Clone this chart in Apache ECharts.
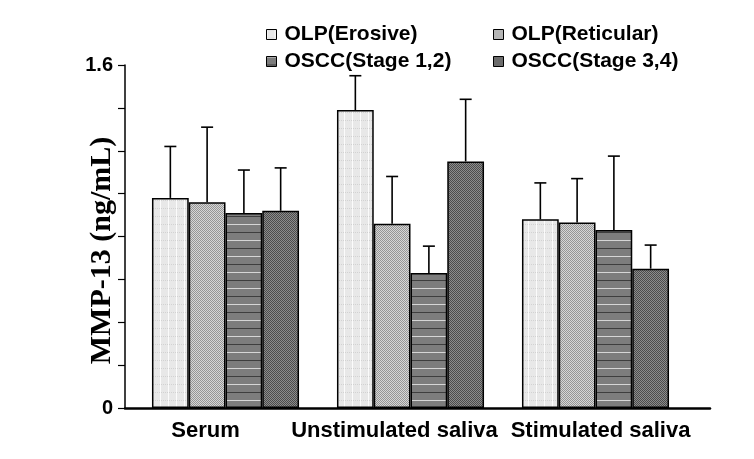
<!DOCTYPE html>
<html>
<head>
<meta charset="utf-8">
<script src="https://cdn.jsdelivr.net/npm/echarts@6/dist/echarts.min.js"></script>
<style>
html,body{margin:0;padding:0;background:#fff;}
#chart{width:754px;height:459px;}
</style>
</head>
<body>
<div id="chart"></div>
<script>
// ---- Data ----
var categories = ['Serum', 'Unstimulated saliva', 'Stimulated saliva'];
var seriesNames = ['OLP(Erosive)', 'OLP(Reticular)', 'OSCC(Stage 1,2)', 'OSCC(Stage 3,4)'];
var erosive      = [0.98, 1.39, 0.88];
var erosiveErr   = [0.24, 0.16, 0.17];
var reticular    = [0.96, 0.86, 0.865];
var reticularErr = [0.35, 0.22, 0.205];
var stage12      = [0.91, 0.63, 0.83];
var stage12Err   = [0.20, 0.125, 0.345];
var stage34      = [0.92, 1.15, 0.65];
var stage34Err   = [0.20, 0.29, 0.11];
var yTickLabels  = ['0', '1.6'];

var values = [erosive, reticular, stage12, stage34];
var errors = [erosiveErr, reticularErr, stage12Err, stage34Err];

// ---- Layout (label nudges, px) ----
var LABEL_SHIFT = [-20, -16, 5];

// ---- Patterns ----
function makePattern(w, h, draw) {
  var c = document.createElement('canvas');
  c.width = w; c.height = h;
  var ctx = c.getContext('2d');
  draw(ctx, w, h);
  return {image: c, repeat: 'repeat'};
}
var patErosive = makePattern(8, 8, function (ctx, w, h) {
  ctx.fillStyle = '#e8e8e8'; ctx.fillRect(0, 0, w, h);
  ctx.fillStyle = '#fbfbfb'; ctx.fillRect(0, 0, 1, h);
  ctx.fillStyle = '#d2d2d2';
  for (var x = 1; x < w; x += 2) ctx.fillRect(x, 0, 1, 1);
});
var patReticular = makePattern(2, 2, function (ctx) {
  ctx.fillStyle = '#d6d6d6'; ctx.fillRect(0, 0, 2, 2);
  ctx.fillStyle = '#959595'; ctx.fillRect(0, 0, 1, 1); ctx.fillRect(1, 1, 1, 1);
});
var patStage12 = makePattern(4, 16, function (ctx, w, h) {
  ctx.fillStyle = '#7d7d7d'; ctx.fillRect(0, 0, w, h);
  ctx.fillStyle = '#d6d6d6'; ctx.fillRect(0, 0, w, 1);
  ctx.fillStyle = '#3e3e3e'; ctx.fillRect(0, 8, w, 1);
});
var patStage34 = makePattern(2, 2, function (ctx) {
  ctx.fillStyle = '#8c8c8c'; ctx.fillRect(0, 0, 2, 2);
  ctx.fillStyle = '#4c4c4c'; ctx.fillRect(0, 0, 1, 1); ctx.fillRect(1, 1, 1, 1);
});
var patterns = [patErosive, patReticular, patStage12, patStage34];

var CAT_GAP = 0.205;
var FONT = 'Liberation Sans, Arial, sans-serif';

var series = seriesNames.map(function (name, i) {
  return {
    name: name,
    type: 'bar',
    xAxisIndex: 0, yAxisIndex: 0,
    data: values[i],
    barGap: '0%',
    barCategoryGap: (CAT_GAP * 100) + '%',
    itemStyle: {color: patterns[i], borderColor: '#000', borderWidth: 1.5},
    emphasis: {disabled: true},
    z: 2
  };
});

var errData = [];
values.forEach(function (arr, s) {
  arr.forEach(function (v, c) { errData.push([c, s, v, errors[s][c]]); });
});
series.push({
  type: 'custom',
  xAxisIndex: 0, yAxisIndex: 0,
  z: 5,
  silent: true,
  data: errData,
  encode: {x: 0, y: 2},
  renderItem: function (params, api) {
    var c = api.value(0), s = api.value(1), v = api.value(2), e = api.value(3);
    var base = api.coord([c, v]);
    var top = api.coord([c, v + e]);
    var band = api.size([1, 0])[0];
    var bw = band * (1 - CAT_GAP) / 4;
    var x = base[0] + (s - 1.5) * bw;
    var st = {stroke: '#000', lineWidth: 1.6};
    return {
      type: 'group',
      children: [
        {type: 'line', shape: {x1: x, y1: base[1], x2: x, y2: top[1]}, style: st},
        {type: 'line', shape: {x1: x - 6, y1: top[1], x2: x + 6, y2: top[1]}, style: st}
      ]
    };
  }
});

function legendAt(name, left, top) {
  return {
    data: [name], left: left, top: top,
    itemWidth: 10, itemHeight: 10, itemGap: 0,
    icon: 'rect',
    selectedMode: false,
    itemStyle: {borderColor: '#000', borderWidth: 1},
    textStyle: {fontFamily: FONT, fontWeight: 'bold', fontSize: 21, color: '#000', padding: [0, 0, 0, 3]}
  };
}

var labelRich = {};
LABEL_SHIFT.forEach(function (d, i) {
  labelRich['c' + i] = {
    fontFamily: FONT, fontWeight: 'bold', fontSize: 22, color: '#000',
    padding: d < 0 ? [0, -2 * d, 0, 0] : [0, 0, 0, 2 * d]
  };
});

var option = {
  backgroundColor: '#fff',
  animation: false,
  legend: [
    legendAt(seriesNames[0], 261, 19),
    legendAt(seriesNames[1], 488, 19),
    legendAt(seriesNames[2], 261, 46),
    legendAt(seriesNames[3], 488, 46)
  ],
  grid: [
    {left: 133, right: 66, top: 65, bottom: 51},
    {left: 125, right: 44, top: 65, bottom: 51}
  ],
  xAxis: [
    {
      type: 'category', gridIndex: 0, data: categories,
      axisLine: {show: false}, axisTick: {show: false},
      axisLabel: {
        interval: 0, hideOverlap: false, margin: 12,
        fontFamily: FONT, fontWeight: 'bold', fontSize: 22, color: '#000',
        formatter: function (v, idx) { return '{c' + idx + '|' + v + '}'; },
        rich: labelRich
      }
    },
    {
      type: 'value', gridIndex: 1, min: 0, max: 1,
      axisLine: {show: true, onZero: false, lineStyle: {color: '#000', width: 2.5}},
      axisTick: {show: false}, axisLabel: {show: false}, splitLine: {show: false}
    }
  ],
  yAxis: [
    {
      type: 'value', gridIndex: 0, min: 0, max: 1.6, interval: 0.2,
      offset: 8,
      name: 'MMP-13 (ng/mL)', nameLocation: 'middle', nameRotate: 90, nameGap: 8,
      nameMoveOverlap: false,
      nameTextStyle: {
        fontFamily: 'Liberation Serif, Times New Roman, serif', fontWeight: 'bold', fontSize: 30, color: '#000',
        padding: [0, 28, 0, 0]
      },
      axisLine: {show: true, lineStyle: {color: '#000', width: 1.5}},
      axisTick: {show: true, length: 7, lineStyle: {color: '#000', width: 1.2}},
      axisLabel: {
        fontFamily: FONT, fontWeight: 'bold', fontSize: 20, color: '#000', margin: 12,
        formatter: function (v) {
          if (Math.abs(v) < 1e-9) return yTickLabels[0];
          if (Math.abs(v - 1.6) < 1e-9) return yTickLabels[1];
          return '';
        }
      },
      splitLine: {show: false}
    },
    {
      type: 'value', gridIndex: 1, min: 0, max: 1, show: false
    }
  ],
  series: series
};

var chart = echarts.init(document.getElementById('chart'), null, {renderer: 'canvas'});
chart.setOption(option);
</script>
</body>
</html>
